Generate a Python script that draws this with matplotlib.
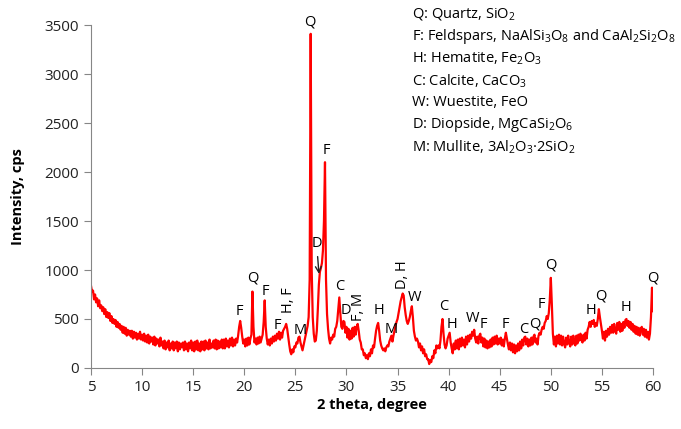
import numpy as np
import matplotlib.pyplot as plt

plt.rcParams['font.family'] = ['Open Sans', 'DejaVu Sans']
plt.rcParams['mathtext.fontset'] = 'custom'
plt.rcParams['mathtext.rm'] = 'Open Sans'

# XRD scan, 2-theta from 5 to 60 deg in 0.1 deg steps (intensity in cps)
cps_5_to_15 = [
    840, 780, 790, 700, 750, 670, 710, 630, 690, 610,
    640, 580, 620, 550, 600, 520, 570, 510, 560, 480,
    530, 460, 500, 450, 490, 420, 470, 410, 450, 390,
    430, 360, 420, 350, 410, 330, 390, 340, 380, 320,
    380, 300, 370, 310, 360, 290, 350, 300, 370, 290,
    340, 280, 350, 270, 330, 260, 340, 250, 320, 270,
    310, 240, 320, 230, 300, 250, 290, 220, 310, 230,
    270, 200, 280, 190, 260, 210, 280, 180, 250, 200,
    270, 180, 260, 200, 270, 170, 260, 190, 250, 210,
    260, 180, 270, 190, 250, 170, 260, 200, 280, 180,
]
cps_15_to_25 = [
    260, 170, 270, 190, 280, 180, 250, 170, 270, 190,
    270, 180, 280, 200, 260, 190, 290, 200, 250, 210,
    280, 200, 290, 190, 280, 200, 270, 210, 290, 200,
    290, 200, 300, 220, 280, 210, 300, 230, 310, 220,
    290, 230, 300, 260, 330, 420, 480, 410, 320, 250,
    290, 220, 300, 230, 310, 240, 300, 340, 780, 420,
    260, 300, 240, 310, 250, 320, 260, 300, 340, 470,
    690, 420, 300, 240, 290, 230, 300, 250, 320, 270,
    330, 280, 350, 300, 370, 290, 360, 310, 380, 400,
    420, 450, 400, 320, 240, 170, 140, 190, 160, 220,
]
cps_25_to_35 = [
    210, 260, 250, 310, 320, 260, 220, 180, 230, 280,
    330, 380, 430, 520, 900, 3410, 1000, 520, 350, 270,
    280, 380, 600, 850, 980, 1020, 1070, 1200, 1500, 2100,
    900, 550, 400, 300, 250, 310, 290, 340, 320, 400,
    420, 480, 600, 720, 560, 420, 400, 480, 470, 360,
    420, 310, 400, 290, 380, 300, 410, 320, 420, 340,
    420, 450, 380, 290, 260, 190, 190, 130, 150, 100,
    130, 90, 150, 120, 190, 150, 230, 210, 300, 380,
    430, 460, 380, 280, 230, 200, 180, 200, 170, 210,
    230, 220, 270, 300, 330, 270, 330, 380, 430, 470,
]
cps_35_to_45 = [
    500, 560, 620, 680, 720, 760, 740, 620, 540, 480,
    450, 480, 520, 580, 630, 520, 380, 320, 280, 300,
    270, 210, 250, 180, 220, 150, 190, 120, 140, 90,
    90, 40, 80, 60, 120, 100, 180, 150, 230, 200,
    230, 200, 280, 420, 500, 350, 240, 200, 230, 300,
    330, 360, 260, 200, 150, 250, 190, 280, 200, 290,
    190, 300, 220, 310, 230, 290, 210, 320, 240, 330,
    270, 340, 300, 370, 330, 390, 300, 260, 320, 250,
    330, 350, 260, 310, 220, 300, 210, 280, 200, 270,
    210, 290, 220, 310, 240, 320, 250, 330, 240, 300,
]
cps_45_to_55 = [
    250, 310, 230, 290, 220, 300, 360, 300, 240, 190,
    260, 180, 250, 160, 240, 150, 230, 170, 250, 180,
    270, 200, 290, 230, 310, 320, 240, 300, 220, 290,
    230, 310, 240, 320, 340, 260, 300, 240, 330, 360,
    340, 390, 420, 400, 460, 480, 530, 500, 560, 700,
    920, 650, 350, 240, 320, 220, 330, 250, 340, 240,
    330, 230, 320, 250, 210, 310, 240, 330, 260, 220,
    320, 240, 330, 260, 230, 330, 250, 340, 280, 350,
    290, 260, 340, 280, 360, 300, 390, 420, 470, 420,
    480, 450, 490, 420, 460, 430, 500, 600, 520, 450,
]
cps_55_to_60 = [
    380, 300, 370, 280, 380, 320, 400, 340, 420, 360,
    440, 360, 450, 380, 350, 460, 390, 470, 370, 450,
    380, 470, 410, 490, 500, 430, 480, 410, 470, 390,
    450, 370, 430, 350, 420, 340, 410, 330, 400, 420,
    340, 400, 320, 390, 310, 370, 290, 350, 520, 820,
    580,
]

intensity = np.array(cps_5_to_15 + cps_15_to_25 + cps_25_to_35
                     + cps_35_to_45 + cps_45_to_55 + cps_55_to_60)
two_theta = np.round(5.0 + 0.1 * np.arange(len(intensity)), 1)

# Phase labels over the peaks: (text, 2theta, cps, rotated)
peak_labels = [
    ('F', 19.5, 575, False), ('Q', 20.85, 915, False), ('F', 22.1, 780, False),
    ('F', 23.25, 430, False), ('H, F', 24.3, 695, True), ('M', 25.45, 380, False),
    ('Q', 26.45, 3530, False), ('F', 28.0, 2215, False),
    ('C', 29.35, 830, False), ('D', 29.95, 585, False), ('F, M', 31.15, 625, True),
    ('H', 33.2, 585, False), ('M', 34.4, 395, False), ('D, H', 35.5, 950, True),
    ('W', 36.7, 720, False), ('C', 39.55, 625, False), ('H', 40.35, 445, False),
    ('W', 42.3, 505, False), ('F', 43.4, 440, False), ('F', 45.6, 445, False),
    ('C', 47.35, 395, False), ('Q', 48.45, 445, False), ('F', 49.1, 645, False),
    ('Q', 50.0, 1050, False), ('H', 53.9, 585, False), ('Q', 54.85, 735, False),
    ('H', 57.4, 620, False), ('Q', 60.0, 915, False),
]

phases = [
    r'Q: Quartz, SiO$_\mathregular{2}$',
    r'F: Feldspars, NaAlSi$_\mathregular{3}$O$_\mathregular{8}$ and '
    r'CaAl$_\mathregular{2}$Si$_\mathregular{2}$O$_\mathregular{8}$',
    r'H: Hematite, Fe$_\mathregular{2}$O$_\mathregular{3}$',
    r'C: Calcite, CaCO$_\mathregular{3}$',
    'W: Wuestite, FeO',
    r'D: Diopside, MgCaSi$_\mathregular{2}$O$_\mathregular{6}$',
    r'M: Mullite, 3Al$_\mathregular{2}$O$_\mathregular{3}$·2SiO$_\mathregular{2}$',
]

fig = plt.figure(figsize=(6.81, 4.29), dpi=100)
ax = fig.add_axes([0.1336, 0.1422, 0.8253, 0.7995])

ax.plot(two_theta, intensity, color='#ff0000', lw=1.6)

ax.set_xlim(5, 60)
ax.set_ylim(0, 3500)
ax.set_xticks(np.arange(5, 61, 5))
ax.set_yticks(np.arange(0, 3501, 500))

for side in ['top', 'right']:
    ax.spines[side].set_visible(False)
for side in ['left', 'bottom']:
    ax.spines[side].set_color('#868686')
ax.tick_params(direction='out', length=5, color='#868686', labelsize=11,
               labelcolor='#222222')

ax.set_xlabel('2 theta, degree', fontsize=10.5, fontweight='bold', labelpad=2)
ax.set_ylabel('Intensity, cps', fontsize=10.5, fontweight='bold', labelpad=14)

for text, x, y, rot in peak_labels:
    ax.text(x, y, text, ha='center', va='center', fontsize=10.5,
            rotation=90 if rot else 0, clip_on=False)

ax.annotate('D', xy=(27.31, 960), xytext=(27.08, 1270), ha='center', va='center',
            fontsize=10.5,
            arrowprops=dict(arrowstyle='->', color='#222222', lw=1, shrinkA=2, shrinkB=0))

for i, line in enumerate(phases):
    fig.text(412 / 681, 1 - (15 + i * 22) / 429, line, ha='left', va='center',
             fontsize=10.5)

fig.savefig('out.png', dpi=100)
